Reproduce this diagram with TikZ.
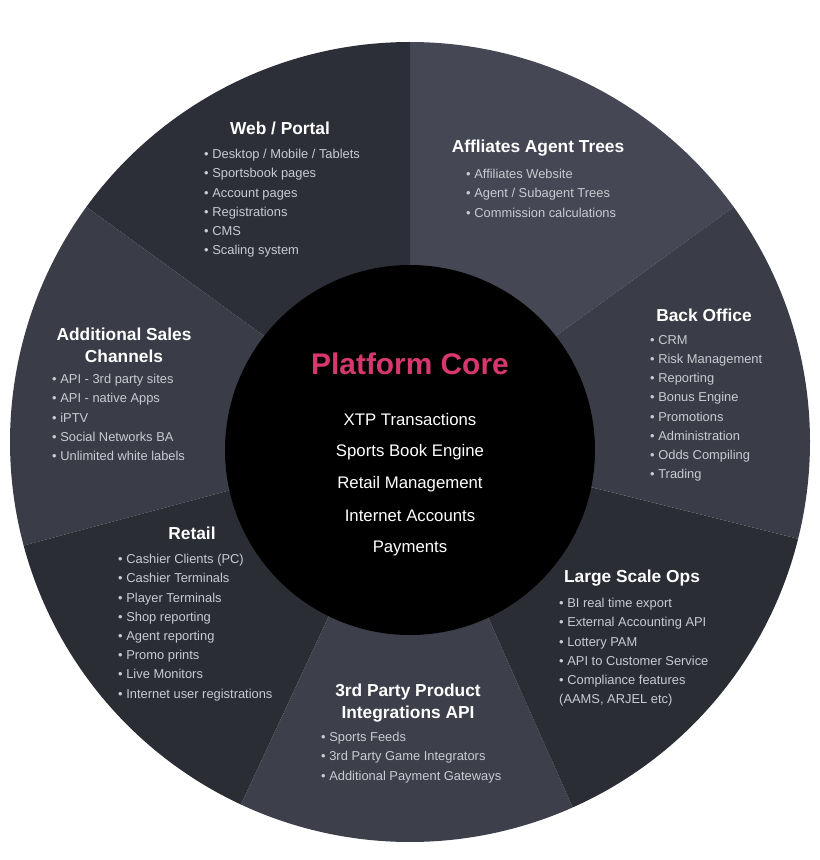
\documentclass[tikz,border=0pt]{standalone}
\usepackage{fontspec}
\setmainfont{Liberation Sans}
\definecolor{secA}{HTML}{2D2F38}
\definecolor{secB}{HTML}{454854}
\definecolor{secC}{HTML}{3A3D47}
\definecolor{secD}{HTML}{2B2D35}
\definecolor{secE}{HTML}{3D404A}
\definecolor{coreTitle}{HTML}{D8366E}
\definecolor{itemGray}{HTML}{C9CBD2}
\tikzset{
  sector/.style={fill=#1, draw=none},
  sectitle/.style={text=white, font=\fontsize{14.8}{18.5}\selectfont\bfseries, align=center, inner sep=0pt},
  seclist/.style={text=itemGray, font=\fontsize{11}{16.4}\selectfont, align=left, anchor=north west, inner sep=0pt},
  coreitem/.style={text=white, font=\fontsize{14.3}{16}\selectfont, inner sep=0pt}
}
\newcommand{\slice}[3]{% colour, from, to (visual angles)
  \fill[sector=#1] (410,442) -- ++(-#2:400) arc[start angle=-#2, end angle=-#3, radius=400] -- cycle;}
\begin{document}
\begin{tikzpicture}[x=0.03cm, y=-0.03cm]
  \useasboundingbox (0,0) rectangle (820,860);
  % sectors
  \slice{secB}{36}{90}
  \slice{secA}{90}{144}
  \slice{secC}{144}{195}
  \slice{secD}{195}{245}
  \slice{secE}{245}{294}
  \slice{secD}{294}{346}
  \slice{secC}{346}{396}
  % core
  \fill[black] (410,450) circle[radius=185];
  \node[text=coreTitle, font=\fontsize{25.5}{28}\selectfont\bfseries] (core) at (410,364) {Platform Core};
  \node[coreitem] (xtp) at (410,420) {XTP Transactions};
  \node[coreitem] (sbe) at (410,452) {Sports Book Engine};
  \node[coreitem] (rm) at (410,484) {Retail Management};
  \node[coreitem] (ia) at (410,516) {Internet Accounts};
  \node[coreitem] (pay) at (410,548) {Payments};
  % web / portal
  \node[sectitle] (web) at (280,128) {Web / Portal};
  \node[seclist] (webl) at (204,149) {• Desktop / Mobile / Tablets\\• Sportsbook pages\\• Account pages\\• Registrations\\• CMS\\• Scaling system};
  % affiliates
  \node[sectitle] (aff) at (538,148) {Affliates Agent Trees};
  \node[seclist] (affl) at (466,169) {• Affiliates Website\\• Agent / Subagent Trees\\• Commission calculations};
  % back office
  \node[sectitle] (bo) at (704,315) {Back Office};
  \node[seclist] (bol) at (650,335) {• CRM\\• Risk Management\\• Reporting\\• Bonus Engine\\• Promotions\\• Administration\\• Odds Compiling\\• Trading};
  % additional sales channels
  \node[sectitle] (asc) at (124,345) {Additional Sales\\Channels};
  \node[seclist] (ascl) at (52,374) {• API - 3rd party sites\\• API - native Apps\\• iPTV\\• Social Networks BA\\• Unlimited white labels};
  % retail
  \node[sectitle] (ret) at (192,533) {Retail};
  \node[seclist] (retl) at (118,554) {• Cashier Clients (PC)\\• Cashier Terminals\\• Player Terminals\\• Shop reporting\\• Agent reporting\\• Promo prints\\• Live Monitors\\• Internet user registrations};
  % large scale ops
  \node[sectitle] (lso) at (632,578) {Large Scale Ops};
  \node[seclist] (lsol) at (559,598) {• BI real time export\\• External Accounting API\\• Lottery PAM\\• API to Customer Service\\• Compliance features\\(AAMS, ARJEL etc)};
  % 3rd party
  \node[sectitle] (tpp) at (408,703) {3rd Party Product\\Integrations API};
  \node[seclist] (tppl) at (321,732) {• Sports Feeds\\• 3rd Party Game Integrators\\• Additional Payment Gateways};
\end{tikzpicture}
\end{document}
